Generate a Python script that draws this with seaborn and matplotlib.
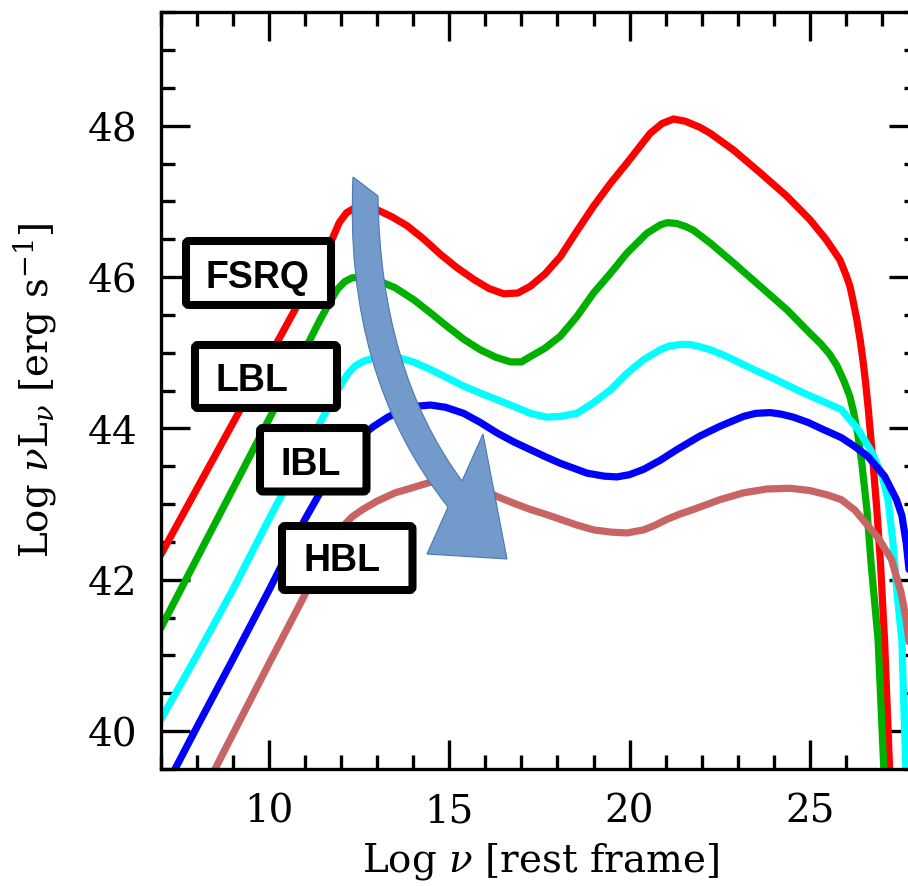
import numpy as np
import pandas as pd
import matplotlib
matplotlib.use("Agg")
import matplotlib.pyplot as plt
import seaborn as sns
from matplotlib.path import Path
from matplotlib.patches import PathPatch, FancyBboxPatch
from matplotlib.ticker import MultipleLocator
import matplotlib.transforms as mtransforms

# ---------------- data ----------------
x_fsrq = [7.0, 8.0, 9.0, 10.0, 10.7, 11.2, 11.5, 11.75, 11.95, 12.15, 12.4, 12.7, 13.0, 13.4,
          13.83, 14.3, 14.76, 15.2, 15.68, 16.1, 16.51, 16.9, 17.25, 17.65, 18.08, 18.5, 18.99,
          19.47, 19.93, 20.57, 20.9, 21.22, 21.55, 21.95, 22.24, 22.88, 23.62, 24.36, 25.0,
          25.46, 25.83, 26.0, 26.11, 26.2, 26.3, 26.4, 26.48, 26.55, 26.62, 26.75, 26.86,
          26.96, 27.07, 27.21, 27.3]
y_fsrq = [42.33, 43.20, 44.07, 44.94, 45.55, 45.98, 46.25, 46.50, 46.72, 46.85, 46.92, 46.93,
          46.89, 46.80, 46.68, 46.50, 46.30, 46.13, 45.97, 45.85, 45.78, 45.79, 45.88, 46.04,
          46.27, 46.58, 46.93, 47.24, 47.51, 47.90, 48.03, 48.09, 48.06, 47.98, 47.90, 47.68,
          47.38, 47.07, 46.76, 46.49, 46.23, 46.03, 45.88, 45.68, 45.44, 45.15, 44.87, 44.58,
          44.25, 43.55, 42.9, 42.2, 41.2, 39.5, 38.5]

x_lbl = [7.0, 8.0, 9.0, 10.0, 11.0, 11.4, 11.7, 11.9, 12.1, 12.3, 12.6, 13.0, 13.5, 14.02,
         14.5, 14.94, 15.4, 15.86, 16.3, 16.7, 17.0, 17.25, 17.65, 18.08, 18.54, 19.0, 19.47,
         19.93, 20.48, 20.85, 21.05, 21.3, 21.55, 21.77, 22.24, 22.88, 23.62, 24.36, 25.0,
         25.3, 25.55, 25.75, 25.95, 26.11, 26.22, 26.33, 26.44, 26.58, 26.7, 26.89, 27.05, 27.12]
y_lbl = [41.36, 42.28, 43.20, 44.12, 45.04, 45.42, 45.68, 45.84, 45.94, 45.99, 46.0, 45.96,
         45.86, 45.70, 45.52, 45.35, 45.18, 45.04, 44.94, 44.88, 44.88, 44.95, 45.06, 45.22,
         45.48, 45.79, 46.05, 46.32, 46.58, 46.69, 46.72, 46.71, 46.67, 46.62, 46.45, 46.19,
         45.88, 45.57, 45.26, 45.12, 44.98, 44.83, 44.62, 44.42, 44.20, 43.92, 43.54, 42.93,
         42.2, 41.21, 39.5, 38.5]

x_cyan = [7.0, 8.0, 9.0, 10.0, 11.0, 11.5, 12.0, 12.2, 12.4, 12.63, 12.9, 13.3, 13.56, 14.0,
          14.48, 14.9, 15.4, 15.9, 16.33, 16.8, 17.25, 17.7, 18.08, 18.54, 19.0, 19.47, 19.93,
          20.39, 20.85, 21.1, 21.4, 21.68, 21.95, 22.24, 22.70, 23.35, 24.08, 24.82, 25.4,
          25.87, 26.35, 26.70, 26.98, 27.17, 27.3, 27.42, 27.55, 27.66, 27.72]
y_cyan = [40.15, 41.0, 41.87, 42.8, 43.7, 44.15, 44.58, 44.73, 44.83, 44.89, 44.93, 44.95,
          44.94, 44.88, 44.78, 44.68, 44.56, 44.46, 44.38, 44.29, 44.20, 44.15, 44.16, 44.20,
          44.34, 44.51, 44.73, 44.91, 45.04, 45.09, 45.11, 45.11, 45.08, 45.04, 44.95, 44.80,
          44.64, 44.47, 44.35, 44.25, 43.98, 43.70, 43.41, 43.05, 42.5, 41.8, 41.2, 39.5, 38.5]

x_blue = [7.3, 8.0, 9.0, 10.0, 11.0, 11.5, 11.9, 12.2, 12.5, 12.91, 13.3, 13.65, 14.0, 14.48,
          14.9, 15.4, 15.86, 16.33, 16.8, 17.25, 17.65, 18.08, 18.82, 19.3, 19.65, 20.0, 20.39,
          20.85, 21.31, 21.95, 22.51, 23.16, 23.5, 23.9, 24.2, 24.54, 24.95, 25.4, 25.87, 26.25,
          26.61, 27.07, 27.4, 27.55, 27.67, 27.8, 27.95]
y_blue = [39.41, 40.05, 40.95, 41.86, 42.8, 43.22, 43.54, 43.74, 43.88, 44.03, 44.15, 44.23,
          44.29, 44.31, 44.28, 44.20, 44.08, 43.94, 43.82, 43.72, 43.63, 43.54, 43.41, 43.37,
          43.36, 43.39, 43.46, 43.58, 43.72, 43.90, 44.03, 44.16, 44.20, 44.21, 44.19, 44.15,
          44.08, 43.98, 43.88, 43.76, 43.63, 43.37, 43.06, 42.85, 42.49, 41.9, 40.8]

x_hbl = [8.4, 9.0, 10.0, 10.95, 11.34, 11.7, 12.0, 12.3, 12.6, 13.0, 13.5, 13.93, 14.48, 14.9,
         15.4, 15.9, 16.33, 16.8, 17.25, 17.65, 18.08, 18.5, 19.0, 19.5, 19.93, 20.39, 20.7,
         21.04, 21.4, 21.77, 22.51, 23.16, 23.80, 24.45, 25.0, 25.5, 25.87, 26.25, 26.6, 26.9,
         27.26, 27.53, 27.67, 27.85]
y_hbl = [39.4, 39.96, 40.89, 41.76, 42.14, 42.47, 42.68, 42.83, 42.93, 43.04, 43.15, 43.21,
         43.29, 43.30, 43.27, 43.20, 43.10, 43.01, 42.93, 42.87, 42.80, 42.73, 42.66, 42.63,
         42.62, 42.66, 42.72, 42.80, 42.87, 42.93, 43.06, 43.15, 43.20, 43.21, 43.18, 43.12,
         43.06, 42.92, 42.72, 42.55, 42.27, 41.83, 41.47, 40.8]

series_names = ["red", "green", "cyan", "blue", "rosy"]
series_x = [x_fsrq, x_lbl, x_cyan, x_blue, x_hbl]
series_y = [y_fsrq, y_lbl, y_cyan, y_blue, y_hbl]
box_labels = ["FSRQ", "LBL", "IBL", "HBL"]

x_major = [10, 15, 20, 25]
y_major = [40, 42, 44, 46, 48]

palette = {"red": "#FF0000", "green": "#00B000", "cyan": "#00FFFF",
           "blue": "#0000FF", "rosy": "#C86464"}

# ---------------- figure ----------------
sns.set_style("ticks")
plt.rcParams["font.family"] = ["DejaVu Serif"]
plt.rcParams["mathtext.fontset"] = "dejavuserif"
for k in ["text.color", "axes.labelcolor", "xtick.color", "ytick.color", "axes.edgecolor"]:
    plt.rcParams[k] = "black"

W, H = 908, 887
fig = plt.figure(figsize=(W / 100, H / 100), dpi=100)
# axes in pixel terms: left 160.7, right 918 (beyond the picture edge), top 13.3, bottom 770
L, R, T, B = 160.7, 918.1, 13.3, 770.0
ax = fig.add_axes([L / W, (H - B) / H, (R - L) / W, (B - T) / H])

df = pd.concat(
    [pd.DataFrame({"lognu": xs, "lognuL": ys, "cls": name})
     for name, xs, ys in zip(series_names, series_x, series_y)],
    ignore_index=True)

sns.lineplot(data=df, x="lognu", y="lognuL", hue="cls", palette=palette,
             estimator=None, sort=False, linewidth=5.2, legend=False, ax=ax, zorder=2)
for ln in ax.get_lines():
    ln.set_solid_joinstyle("round")
    ln.set_solid_capstyle("round")

ax.set_xlim(7, 28)
ax.set_ylim(39.5, 49.5)
ax.set_xticks(x_major)
ax.set_yticks(y_major)
ax.xaxis.set_minor_locator(MultipleLocator(1))
ax.yaxis.set_minor_locator(MultipleLocator(0.5))
ax.tick_params(which="both", direction="in", top=True, right=True, width=2.4,
               color="black", labelcolor="black")
ax.tick_params(which="major", length=21, labelsize=28, pad=17)
ax.tick_params(which="minor", length=10)
for s in ax.spines.values():
    s.set_linewidth(2.4)
    s.set_color("black")

ax.set_xlabel(r"Log $\nu$ [rest frame]", fontsize=28)
ax.set_ylabel(r"Log $\nu$L$_\nu$ [erg s$^{-1}$]", fontsize=28)
ax.xaxis.set_label_coords((540 - L) / (R - L), (B - 862) / (B - T))
ax.xaxis.label.set_va("center")
ax.yaxis.set_label_coords((35 - L) / (R - L), (B - 390) / (B - T))
ax.yaxis.label.set_va("center")

# pixel transform (top-left origin) for annotations
pix = mtransforms.Affine2D().scale(1, -1).translate(0, H)

# curved arrow
verts = [(353, 178), (378, 197), (380, 370.5), (462, 482), (483, 435), (507, 560),
         (427, 555), (448, 508), (343.5, 377), (353, 178), (353, 178)]
codes = [Path.MOVETO, Path.LINETO, Path.CURVE3, Path.CURVE3, Path.LINETO, Path.LINETO,
         Path.LINETO, Path.LINETO, Path.CURVE3, Path.CURVE3, Path.CLOSEPOLY]
arrow = PathPatch(Path(verts, codes), transform=pix, facecolor="#729BCC",
                  edgecolor="#4A78B0", linewidth=0.8, zorder=4, clip_on=False)
ax.add_patch(arrow)

# labelled boxes: (x0, y0, x1, y1) stroke-centre in pixels, text centre x, baseline y
boxes = [(186, 242, 331, 306, 258, 288.5),
         (195, 346, 337, 409, 252, 391.5),
         (260, 429, 366.5, 492.5, 311, 475),
         (282, 527, 412.5, 591, 342, 571.5)]
for lab, (x0, y0, x1, y1, tx, ty) in zip(box_labels, boxes):
    p = FancyBboxPatch((x0, y0), x1 - x0, y1 - y0,
                       boxstyle="round,pad=0,rounding_size=3", transform=pix,
                       facecolor="white", edgecolor="black", linewidth=5.8,
                       zorder=5, clip_on=False)
    ax.add_patch(p)
    ax.text(tx, ty, lab, transform=pix, fontsize=27, fontweight="bold",
            family="Liberation Sans", ha="center", va="baseline", zorder=6,
            clip_on=False, color="black")

fig.savefig("out.png", dpi=100)
